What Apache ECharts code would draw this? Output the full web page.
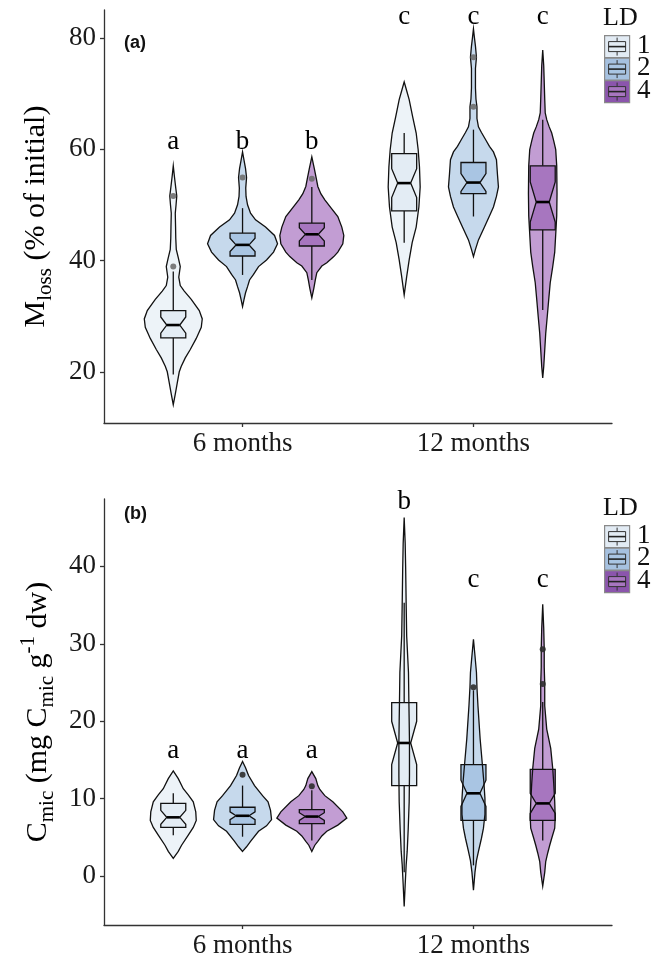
<!DOCTYPE html>
<html>
<head>
<meta charset="utf-8">
<script src="https://cdn.jsdelivr.net/npm/echarts@6.0.0/dist/echarts.min.js"></script>
<style>html,body{margin:0;padding:0;background:#fff}#chart{width:652px;height:959px}</style>
</head>
<body>
<div id="chart"></div>
<script>
var groups = ['6 months', '12 months'];
var ldLevels = ['1', '2', '4'];
var ldOffset = [-0.3, 0, 0.3];

// order of every panel array: 6 months LD1, LD2, LD4, then 12 months LD1, LD2, LD4
// violin outlines as [value, half width of density]
var mlossViolins = [
	[[14.1,0],[16,2],[18,4],[20,6],[21,8],[22.5,12],[24,17],[26,23],[28,28],[29.5,29],[31,26],[33,18],[34.5,11],[35.5,7],[37,5.5],[38.9,7],[40.5,5],[42,3],[44,2.5],[46,2.3],[48.5,2],[50,2.8],[51.6,3.5],[53,2.5],[55,1.2],[57,0]],
	[[31.7,0],[33,1.5],[34.2,3],[35.3,5],[36.5,7],[37.5,11],[38.9,16],[40.1,24],[41.5,31],[43,35],[44.5,32],[46,23],[47.3,13],[48.5,8],[50,5],[51.5,3.5],[53,3.2],[54.9,4],[56.5,3],[58,1.5],[59.5,0]],
	[[33.3,0],[35,2],[36.5,3.5],[37.8,5],[39,10],[39.6,15],[40.7,22],[41.5,26],[43,31],[44.5,32],[46,30],[47.9,26],[49.5,19],[50.9,13],[52,9],[53.3,6],[54.7,4.5],[56.5,2.5],[58.6,0]],
	[[33.8,0],[37.1,2.5],[40.1,5],[43.2,8],[46,12],[49.6,14.7],[53.2,16],[56.8,15.3],[59.9,14],[62.9,12],[65.8,8.5],[68.9,5],[70.5,2.5],[72.1,0]],
	[[40.7,0],[42,2],[43.7,5],[46,11],[48,16],[49.6,20],[51.5,23],[53.2,25],[55.5,24],[58.1,23],[59.5,20],[60.5,16],[61.6,12.5],[63,8],[64,5],[65.5,3.5],[67.6,3.5],[69,2.5],[71,2],[74.5,2],[76.5,3],[78.5,2],[80,1],[81.6,0]],
	[[18.9,0],[20.9,1],[23.9,2],[26.9,3],[29.9,4.5],[33,6],[36,7.5],[38.9,10],[41.5,12],[44.7,13],[48,14],[52,14.3],[57,14],[59.9,13],[61.5,11],[62.9,9],[64,6.5],[65.3,4],[66.5,2.5],[69,2],[72,1.5],[75,1],[77.8,0]]
];
// [lower whisker, Q1, median, Q3, upper whisker]
var mlossBoxes = [
	[19.5, 26.1, 28.4, 31.0, 38.0],
	[37.4, 40.8, 42.8, 44.9, 49.4],
	[36.5, 42.6, 44.7, 46.7, 53.2],
	[43.2, 48.9, 53.9, 59.2, 62.9],
	[47.9, 52.0, 54.0, 57.6, 63.5],
	[31.1, 45.5, 50.5, 57.0, 65.3]
];
var mlossNotch = [1.45, 1.2, 1.2, 2.6, 1.6, 3.6];
var mlossOutliers = [[51.6, 38.9], [54.9], [54.7], [], [76.5, 67.6], []];
var mlossLetters = ['a', 'b', 'b', 'c', 'c', 'c'];
var mlossLetterY = [61.3, 61.3, 61.3, 83.7, 83.7, 83.7];
var mlossTicks = [20, 40, 60, 80];

var cmicViolins = [
	[[2.3,0],[3.2,5],[4,8.3],[5.3,15],[6.3,20],[7.2,23],[8.3,22.5],[9.6,20],[10.5,15],[11.3,10],[12.6,5],[13.6,0]],
	[[3.2,0],[3.8,4],[4.5,8],[5.8,16],[6.5,24],[7.3,29],[8.5,28],[9.6,25.5],[10.4,20],[11.7,12],[13,6],[14,3],[14.8,0]],
	[[3.2,0],[4,3],[4.5,6],[5.2,10],[5.8,15],[6.6,26],[7.5,35],[8.3,31],[9.6,21],[10.4,13],[11.2,8],[11.7,6],[12.6,4],[13.5,0]],
	[[-3.9,0],[-1.1,1],[1.5,2],[3.2,3],[6,4],[9.6,5],[13,5.3],[17.3,5.3],[20,5],[22.5,4.7],[26.3,4.3],[31,2.5],[35,2],[39.6,1.5],[43,1],[46.3,0]],
	[[-1.8,0],[0.5,1.5],[2,3],[3.2,5],[4.9,8],[6.2,10],[8,11.5],[10,11.5],[12,10.5],[14.3,9],[17.7,6.7],[22,4.5],[24.4,3.5],[26.3,3],[28.5,1.5],[30.6,0]],
	[[-1.3,0],[0.5,2],[1.9,3],[3,5],[4,7],[4.9,9],[6.2,12],[7.5,12.5],[9.6,12],[12,11],[13.9,10],[16.5,8],[19,4],[22,2],[24.8,2],[27,1.5],[29.3,1.5],[32,1],[35.1,0]]
];
var cmicBoxes = [
	[5.3, 6.3, 7.6, 9.4, 10.7],
	[5.1, 6.7, 7.8, 8.9, 11.7],
	[4.6, 6.8, 7.7, 8.6, 11.1],
	[0.5, 11.7, 17.2, 22.4, 35.3],
	[1.4, 7.2, 10.7, 14.4, 24.0],
	[4.6, 7.2, 9.4, 13.8, 22.5]
];
var cmicNotch = [0.9, 0.5, 0.5, 2.8, 1.7, 1.3];
var cmicOutliers = [[], [13.1], [11.6], [], [24.4], [29.3, 24.8]];
var cmicLetters = ['a', 'a', 'a', 'b', 'c', 'c'];
var cmicLetterY = [16.2, 16.2, 16.2, 48.3, 38.3, 38.3];
var cmicTicks = [0, 10, 20, 30, 40];

var violinFill = ['#edf3f8', '#c6d9ec', '#c29dd3'];
var boxFill = ['#e3ecf4', '#a9c5e3', '#a776bf'];
var keyFill = ['#e2ebf4', '#a6c1e0', '#8b55ac'];
var widthScale = 1 / 231;
var boxHalf = 12.5 / 231;
var notchHalf = 6.5 / 231;
var serif = 'Liberation Serif';

function centerOf(i) {
	return Math.floor(i / 3) + 1 + ldOffset[i % 3];
}

function makeRender(violins, boxes, notches) {
	return function (params, api) {
		var i = params.dataIndex;
		var cx = centerOf(i);
		var right = violins[i].map(function (p) { return api.coord([cx + p[1] * widthScale, p[0]]); });
		var left = violins[i].slice().reverse().map(function (p) { return api.coord([cx - p[1] * widthScale, p[0]]); });
		var outline = right.concat(left);
		var b = boxes[i], n = notches[i];
		var c = function (dx, v) { return api.coord([cx + dx, v]); };
		var box = [c(-boxHalf, b[1]), c(-boxHalf, b[2] - n), c(-notchHalf, b[2]), c(-boxHalf, b[2] + n), c(-boxHalf, b[3]),
			c(boxHalf, b[3]), c(boxHalf, b[2] + n), c(notchHalf, b[2]), c(boxHalf, b[2] - n), c(boxHalf, b[1])];
		var lo = c(0, b[0]), q1 = c(0, b[1]), q3 = c(0, b[3]), hi = c(0, b[4]);
		var ml = c(-notchHalf, b[2]), mr = c(notchHalf, b[2]);
		var line = { stroke: '#111', lineWidth: 1.3 };
		return {
			type: 'group',
			children: [
				{ type: 'polygon', shape: { points: outline }, style: { fill: violinFill[i % 3], stroke: null } },
				{ type: 'line', shape: { x1: lo[0], y1: lo[1], x2: q1[0], y2: q1[1] }, style: line },
				{ type: 'line', shape: { x1: q3[0], y1: q3[1], x2: hi[0], y2: hi[1] }, style: line },
				{ type: 'polygon', shape: { points: box }, style: { fill: boxFill[i % 3], stroke: '#111', lineWidth: 1.3 } },
				{ type: 'line', shape: { x1: ml[0], y1: ml[1], x2: mr[0], y2: mr[1] }, style: { stroke: '#000', lineWidth: 2.6 } },
				{ type: 'polygon', shape: { points: outline }, style: { fill: null, stroke: '#111', lineWidth: 1.3 } }
			]
		};
	};
}

function boxData(boxes) {
	return boxes.map(function (b, i) { return [centerOf(i), b[2]]; });
}
function outlierData(outliers) {
	var out = [];
	outliers.forEach(function (vals, i) {
		vals.forEach(function (v) { out.push([centerOf(i), v]); });
	});
	return out;
}
function letterData(letters, ys) {
	return letters.map(function (t, i) { return [centerOf(i), ys[i], t]; });
}

function xAxisFor(grid) {
	return {
		type: 'value', gridIndex: grid, min: 0.4, max: 2.6,
		axisLine: { onZero: false, lineStyle: { color: '#333', width: 1.3 } },
		axisTick: { customValues: [1, 2], length: 4, lineStyle: { color: '#333', width: 1.3 } },
		axisLabel: {
			customValues: [1, 2], margin: 7,
			formatter: function (v) { return groups[Math.round(v) - 1]; },
			fontFamily: serif, fontSize: 27, color: '#1a1a1a'
		},
		splitLine: { show: false }
	};
}
function yAxisFor(grid, min, max, ticks, name, gap) {
	return {
		type: 'value', gridIndex: grid, min: min, max: max,
		name: name, nameLocation: 'middle', nameRotate: 90, nameGap: gap,
		nameTextStyle: {
			color: '#000',
			rich: {
				m: { fontFamily: serif, fontSize: 30, lineHeight: 40, color: '#000' },
				s: { fontFamily: serif, fontSize: 21, lineHeight: 36, verticalAlign: 'bottom', color: '#000' },
				p: { fontFamily: serif, fontSize: 21, lineHeight: 21, verticalAlign: 'top', color: '#000' }
			}
		},
		axisLine: { show: true, onZero: false, lineStyle: { color: '#333', width: 1.3 } },
		axisTick: { show: true, customValues: ticks, length: 4, lineStyle: { color: '#333', width: 1.3 } },
		axisLabel: { customValues: ticks, margin: 8, fontFamily: serif, fontSize: 27, color: '#1a1a1a' },
		splitLine: { show: false }
	};
}

function panelSeries(idx, violins, boxes, notches, outliers, letters, letterY, dotColor) {
	return [
		{
			type: 'custom', xAxisIndex: idx, yAxisIndex: idx,
			renderItem: makeRender(violins, boxes, notches),
			data: boxData(boxes), silent: true
		},
		{
			type: 'scatter', xAxisIndex: idx, yAxisIndex: idx,
			symbolSize: 6, itemStyle: { color: dotColor, opacity: 0.9 },
			data: outlierData(outliers), silent: true, z: 3
		},
		{
			type: 'scatter', xAxisIndex: idx, yAxisIndex: idx,
			symbolSize: 0, itemStyle: { opacity: 1 }, data: letterData(letters, letterY), silent: true,
			label: {
				show: true, position: 'inside', formatter: function (p) { return p.value[2]; },
				fontFamily: serif, fontSize: 27, color: '#000'
			}
		}
	];
}

function legendKeys(top) {
	var items = [{
		type: 'text', left: 603, top: top - 15,
		style: { text: 'LD', font: '26px "Liberation Serif"', fill: '#111' }
	}];
	ldLevels.forEach(function (lab, k) {
		var y = top + 15 + k * 22.5;
		items.push({
			type: 'group', left: 604, top: y,
			children: [
				{ type: 'rect', shape: { x: 0, y: 0, width: 25, height: 22 }, style: { fill: keyFill[k], stroke: '#8a8a8a', lineWidth: 1.2 } },
				{ type: 'line', shape: { x1: 12.5, y1: 2, x2: 12.5, y2: 6 }, style: { stroke: '#333', lineWidth: 1 } },
				{ type: 'rect', shape: { x: 4, y: 6, width: 17, height: 10 }, style: { fill: boxFill[k], stroke: '#333', lineWidth: 1 } },
				{ type: 'line', shape: { x1: 4, y1: 11, x2: 21, y2: 11 }, style: { stroke: '#222', lineWidth: 1.6 } },
				{ type: 'line', shape: { x1: 12.5, y1: 16, x2: 12.5, y2: 20 }, style: { stroke: '#333', lineWidth: 1 } }
			]
		});
		items.push({
			type: 'text', left: 637, top: y - 3,
			style: { text: lab, font: '27px "Liberation Serif"', fill: '#111' }
		});
	});
	return items;
}

var chart = echarts.init(document.getElementById('chart'), null, { renderer: 'canvas' });
chart.setOption({
	animation: false,
	backgroundColor: '#fff',
	title: [
		{ text: '(a)', left: 119, top: 29, textStyle: { fontFamily: 'Liberation Sans', fontWeight: 'bold', fontSize: 18, color: '#111' } },
		{ text: '(b)', left: 119, top: 500, textStyle: { fontFamily: 'Liberation Sans', fontWeight: 'bold', fontSize: 18, color: '#111' } }
	],
	grid: [
		{ left: 104, top: 10, width: 508, height: 413 },
		{ left: 104, top: 499, width: 508, height: 428 }
	],
	xAxis: [xAxisFor(0), xAxisFor(1)],
	yAxis: [
		yAxisFor(0, 10.8, 85, mlossTicks, '{m|M}{s|loss}{m| (% of initial)}', 48),
		yAxisFor(1, -6.3, 48.7, cmicTicks, '{m|C}{s|mic}{m| (mg C}{s|mic}{m| g}{p|-1}{m| dw)}', 46)
	],
	series: panelSeries(0, mlossViolins, mlossBoxes, mlossNotch, mlossOutliers, mlossLetters, mlossLetterY, '#6e6e6e')
		.concat(panelSeries(1, cmicViolins, cmicBoxes, cmicNotch, cmicOutliers, cmicLetters, cmicLetterY, '#2e2e2e')),
	graphic: legendKeys(20).concat(legendKeys(510))
});
</script>
</body>
</html>
